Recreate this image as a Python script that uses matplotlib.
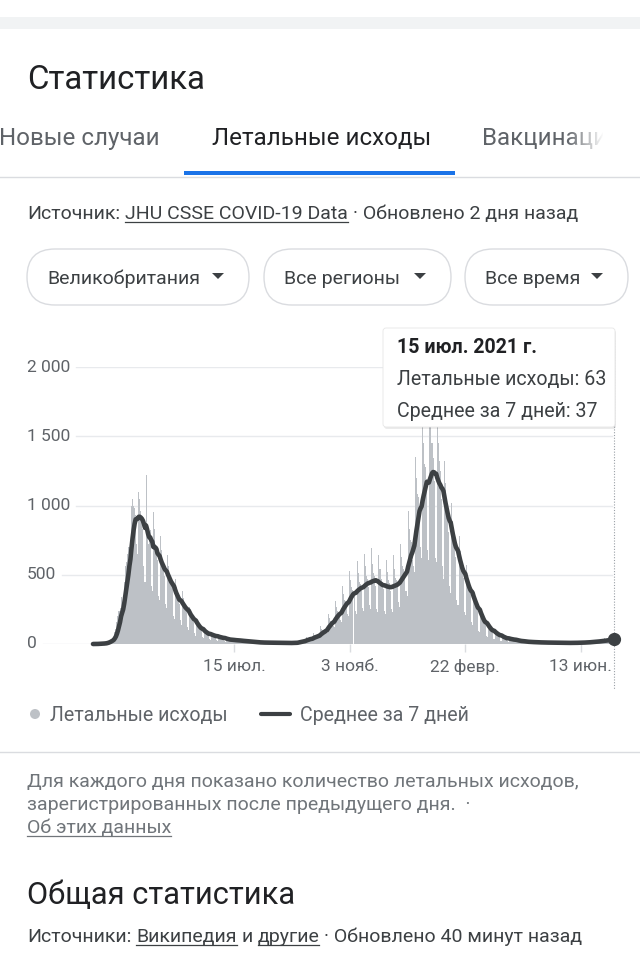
import matplotlib
matplotlib.use('Agg')
import matplotlib.pyplot as plt
import matplotlib.dates as mdates
import matplotlib.transforms as mtransforms
from matplotlib.patches import FancyBboxPatch, Circle, Polygon, Rectangle
import numpy as np
import pandas as pd

plt.rcParams['font.family'] = ['Roboto', 'DejaVu Sans']

# Data (UK, daily deaths from 1 Mar 2020, one row per week Sun..Sat)
start_date = '2020-03-01'
daily_deaths = [
    0, 0, 0, 1, 1, 2, 3,
    2, 2, 5, 4, 6, 7, 10,
    14, 18, 25, 30, 35, 40, 48,
    90, 110, 160, 200, 240, 260, 340,
    260, 290, 450, 560, 590, 650, 700,
    700, 640, 1000, 1050, 1000, 980, 930,
    720, 650, 1100, 1050, 960, 920, 830,
    560, 450, 1220, 860, 720, 760, 820,
    420, 380, 950, 830, 720, 680, 605,
    350, 320, 780, 680, 600, 560, 490,
    290, 260, 640, 560, 480, 440, 410,
    200, 180, 470, 410, 360, 330, 290,
    170, 140, 380, 330, 280, 250, 235,
    120, 100, 270, 230, 200, 180, 160,
    80, 60, 170, 150, 125, 115, 105,
    50, 40, 110, 95, 85, 75, 70,
    38, 32, 88, 74, 65, 58, 51,
    30, 25, 68, 58, 50, 45, 39,
    22, 18, 48, 42, 35, 32, 27,
    18, 15, 40, 35, 30, 27, 24,
    14, 12, 33, 28, 25, 22, 20,
    11, 9, 26, 22, 19, 17, 15,
    8, 6, 18, 16, 13, 12, 11,
    6, 5, 15, 13, 11, 10, 10,
    6, 4, 14, 12, 10, 9, 8,
    5, 4, 12, 10, 9, 8, 8,
    4, 3, 11, 9, 8, 7, 7,
    5, 4, 12, 10, 9, 8, 8,
    10, 9, 24, 22, 20, 21, 20,
    22, 18, 48, 42, 40, 38, 37,
    32, 30, 78, 66, 62, 60, 57,
    52, 50, 130, 110, 100, 95, 93,
    90, 80, 215, 185, 165, 160, 155,
    130, 120, 310, 265, 240, 225, 215,
    170, 160, 420, 360, 320, 310, 290,
    220, 200, 530, 460, 410, 390, 345,
    240, 220, 600, 510, 450, 430, 385,
    260, 240, 650, 560, 490, 470, 410,
    280, 250, 690, 580, 510, 490, 420,
    250, 230, 640, 540, 470, 450, 395,
    240, 220, 610, 520, 460, 440, 380,
    250, 230, 640, 540, 480, 460, 410,
    300, 270, 720, 630, 560, 540, 480,
    380, 350, 960, 830, 750, 740, 610,
    560, 520, 1350, 1200, 1080, 1060, 950,
    700, 620, 1650, 1450, 1300, 1280, 1190,
    680, 610, 1820, 1600, 1450, 1340, 1180,
    620, 590, 1630, 1450, 1320, 1250, 1050,
    560, 470, 1320, 1160, 1050, 1000, 810,
    420, 370, 1020, 890, 800, 770, 630,
    320, 280, 780, 670, 600, 580, 480,
    230, 210, 570, 490, 440, 430, 360,
    160, 140, 390, 340, 300, 290, 235,
    95, 85, 235, 205, 180, 175, 145,
    60, 52, 150, 128, 112, 105, 93,
    38, 35, 95, 85, 72, 68, 62,
    25, 22, 62, 54, 47, 44, 40,
    19, 17, 47, 41, 36, 34, 30,
    13, 11, 33, 28, 25, 23, 21,
    9, 8, 24, 21, 18, 17, 15,
    7, 6, 20, 17, 15, 13, 13,
    6, 5, 17, 14, 13, 11, 11,
    5, 4, 16, 13, 12, 10, 10,
    5, 4, 14, 12, 10, 9, 9,
    4, 3, 13, 11, 9, 8, 8,
    4, 3, 13, 11, 9, 8, 8,
    5, 4, 14, 12, 10, 9, 9,
    6, 5, 17, 14, 13, 11, 11,
    8, 7, 23, 20, 17, 15, 15,
    11, 9, 30, 26, 23, 21, 20,
    15, 13, 40, 35, 31, 29, 26,
    25, 20, 50, 46, 63,
]
avg_window = 7

y_ticks = [0, 500, 1000, 1500, 2000]
y_tick_labels = ['0', '500', '1 000', '1 500', '2 000']
x_tick_dates = ['2020-07-15', '2020-11-03', '2021-02-22', '2021-06-13']
x_tick_labels = ['15 июл.', '3 нояб.', '22 февр.', '13 июн.']
tabs = ['Новые случаи', 'Летальные исходы', 'Вакцинация']
filters = ['Великобритания', 'Все регионы', 'Все время']
legend_labels = ['Летальные исходы', 'Среднее за 7 дней']
tooltip_title = '15 июл. 2021 г.'

W, H = 640, 957
BAR = '#bdc1c6'
LINE = '#3c4043'
DARK = '#202124'
GREY = '#5f6368'
RULE = '#dadce0'

dates = pd.date_range(start_date, periods=len(daily_deaths))
deaths = pd.Series(daily_deaths, index=dates)
avg = deaths.rolling(avg_window, min_periods=1).mean()

fig = plt.figure(figsize=(W / 100, H / 100), dpi=100)
page = fig.add_axes([0, 0, 1, 1])
page.set_xlim(0, W)
page.set_ylim(H, 0)
page.axis('off')
renderer = fig.canvas.get_renderer()


def run_text(x, y, pieces, size, color, **kw):
    # pieces of one line, some underlined, separated by a space
    gap = 0.2476 * size * 100 / 72
    for txt, under in pieces:
        t = page.text(x, y, txt, fontsize=size, color=color, ha='left', va='baseline', **kw)
        w = t.get_window_extent(renderer).width
        if under:
            page.plot([x, x + w], [y + 3, y + 3], color=color, lw=0.9)
        x += w + gap
    return x


# top band and header
page.add_patch(Rectangle((0, 17), W, 12, color='#f1f3f4', lw=0))
page.text(27, 89, 'Статистика', fontsize=23.8, color=DARK, va='baseline')

tab_x = [-1, 212, 482]
for i, (tx, lab) in enumerate(zip(tab_x, tabs)):
    page.text(tx, 145, lab, fontsize=17.4, color=DARK if i == 1 else GREY, va='baseline')
fade = np.ones((1, 60, 4))
fade[0, :, 3] = np.linspace(0, 1, 60)
page.imshow(fade, extent=(566, 604, 158, 115), aspect='auto', zorder=5)
page.add_patch(Rectangle((603, 115), 40, 43, color='white', lw=0, zorder=5))
page.plot([0, W], [177, 177], color=RULE, lw=1)
page.add_patch(Rectangle((184, 171), 271, 4, color='#1a73e8', lw=0))

run_text(27, 219, [('Источник:', False), ('JHU CSSE COVID-19 Data', True),
                   ('· Обновлено 2 дня назад', False)], 14.0, '#3c4043')

# filter pills
pill_x = [27, 264, 465]
pill_w = [222, 187, 163]
for px, pw, lab in zip(pill_x, pill_w, filters):
    page.add_patch(FancyBboxPatch((px, 249), pw, 56, boxstyle='round,pad=0,rounding_size=28',
                                  fc='white', ec=RULE, lw=1))
    page.text(px + 20, 284, lab, fontsize=14, color='#3c4043', va='baseline')
    ex = px + pw - 31
    page.add_patch(Polygon([(ex - 6, 273), (ex + 6, 273), (ex, 279)], closed=True, color='#3c4043', lw=0))

# chart
L, R, T, B = 27, 614, 367, 644
ax = fig.add_axes([L / W, (H - B) / H, (R - L) / W, (B - T) / H])
ax.patch.set_alpha(0)
x0 = mdates.date2num(dates[0])
x1 = mdates.date2num(dates[-1])
ppd = (R - 93) / (x1 - x0)
ax.set_xlim(x0 - (93 - L) / ppd, x1)
ax.set_ylim(0, 2000)
for s in ax.spines.values():
    s.set_visible(False)
ax.set_yticks([])

lab_tr = mtransforms.blended_transform_factory(ax.transAxes, ax.transData)
for v, lab in zip(y_ticks, y_tick_labels):
    t = ax.text(0, v, lab, transform=lab_tr, ha='left', va='center', fontsize=12.5, color=GREY)
    right = t.get_window_extent(renderer).x1
    ax.axhline(v, xmin=(right + 6 - L) / (R - L), xmax=(612 - L) / (R - L),
               color='#e8eaed', lw=1, zorder=1)

ax.bar(dates, deaths.values, width=1.0, color=BAR, linewidth=0, zorder=2)
ax.plot(dates, avg.values, color=LINE, lw=3.3, zorder=3, clip_on=False, solid_capstyle='round')
ax.plot(dates[-1], avg.iloc[-1], 'o', ms=8.5, color=LINE, zorder=4, clip_on=False)

ax.set_xticks(mdates.date2num(pd.to_datetime(x_tick_dates)))
ax.set_xticklabels(x_tick_labels)
ax.tick_params(axis='x', length=6, width=1, color=RULE, pad=5, labelsize=12.5, labelcolor=GREY)

vl_tr = mtransforms.blended_transform_factory(ax.transData, page.transData)
page.plot([x1, x1], [340, 690], transform=vl_tr, color='#9aa0a6', lw=0.8, ls=(0, (1, 1.5)))

# tooltip on top of the bars
top = fig.add_axes([0, 0, 1, 1])
top.set_xlim(0, W)
top.set_ylim(H, 0)
top.axis('off')
top.add_patch(FancyBboxPatch((384, 330), 232, 99, boxstyle='round,pad=0,rounding_size=3',
                             fc='#000000', alpha=0.08, lw=0))
top.add_patch(FancyBboxPatch((383, 328), 232, 99, boxstyle='round,pad=0,rounding_size=3',
                             fc='white', ec='#e6e6e6', lw=0.6))
top.text(397, 353, tooltip_title, fontsize=14.1, fontweight='bold', color=DARK, va='baseline')
top.text(397, 385, f'{legend_labels[0]}: {deaths.iloc[-1]}', fontsize=14.1, color='#3c4043', va='baseline')
top.text(397, 417, f'{legend_labels[1]}: {avg.iloc[-1]:.0f}', fontsize=14.1, color='#3c4043', va='baseline')

# legend row
page.add_patch(Circle((35, 714), 5, color=BAR, lw=0))
page.text(50, 721, legend_labels[0], fontsize=14.1, color=GREY, va='baseline')
page.plot([261, 290], [714, 714], color=LINE, lw=3, solid_capstyle='round')
page.text(300, 721, legend_labels[1], fontsize=14.1, color=GREY, va='baseline')
page.plot([0, W], [752, 752], color=RULE, lw=1)

# footnote
FOOT = '#70757a'
page.text(27, 787, 'Для каждого дня показано количество летальных исходов,', fontsize=14.0, color=FOOT, va='baseline')
page.text(27, 810, 'зарегистрированных после предыдущего дня.  ·', fontsize=14.0, color=FOOT, va='baseline')
run_text(27, 833, [('Об этих данных', True)], 14.0, FOOT)

page.text(27, 904, 'Общая статистика', fontsize=22.2, color=DARK, va='baseline')
run_text(27, 942, [('Источники:', False), ('Википедия', True), ('и', False), ('другие', True),
                   ('· Обновлено 40 минут назад', False)], 14.0, '#3c4043')

fig.savefig('out.png', dpi=100)
